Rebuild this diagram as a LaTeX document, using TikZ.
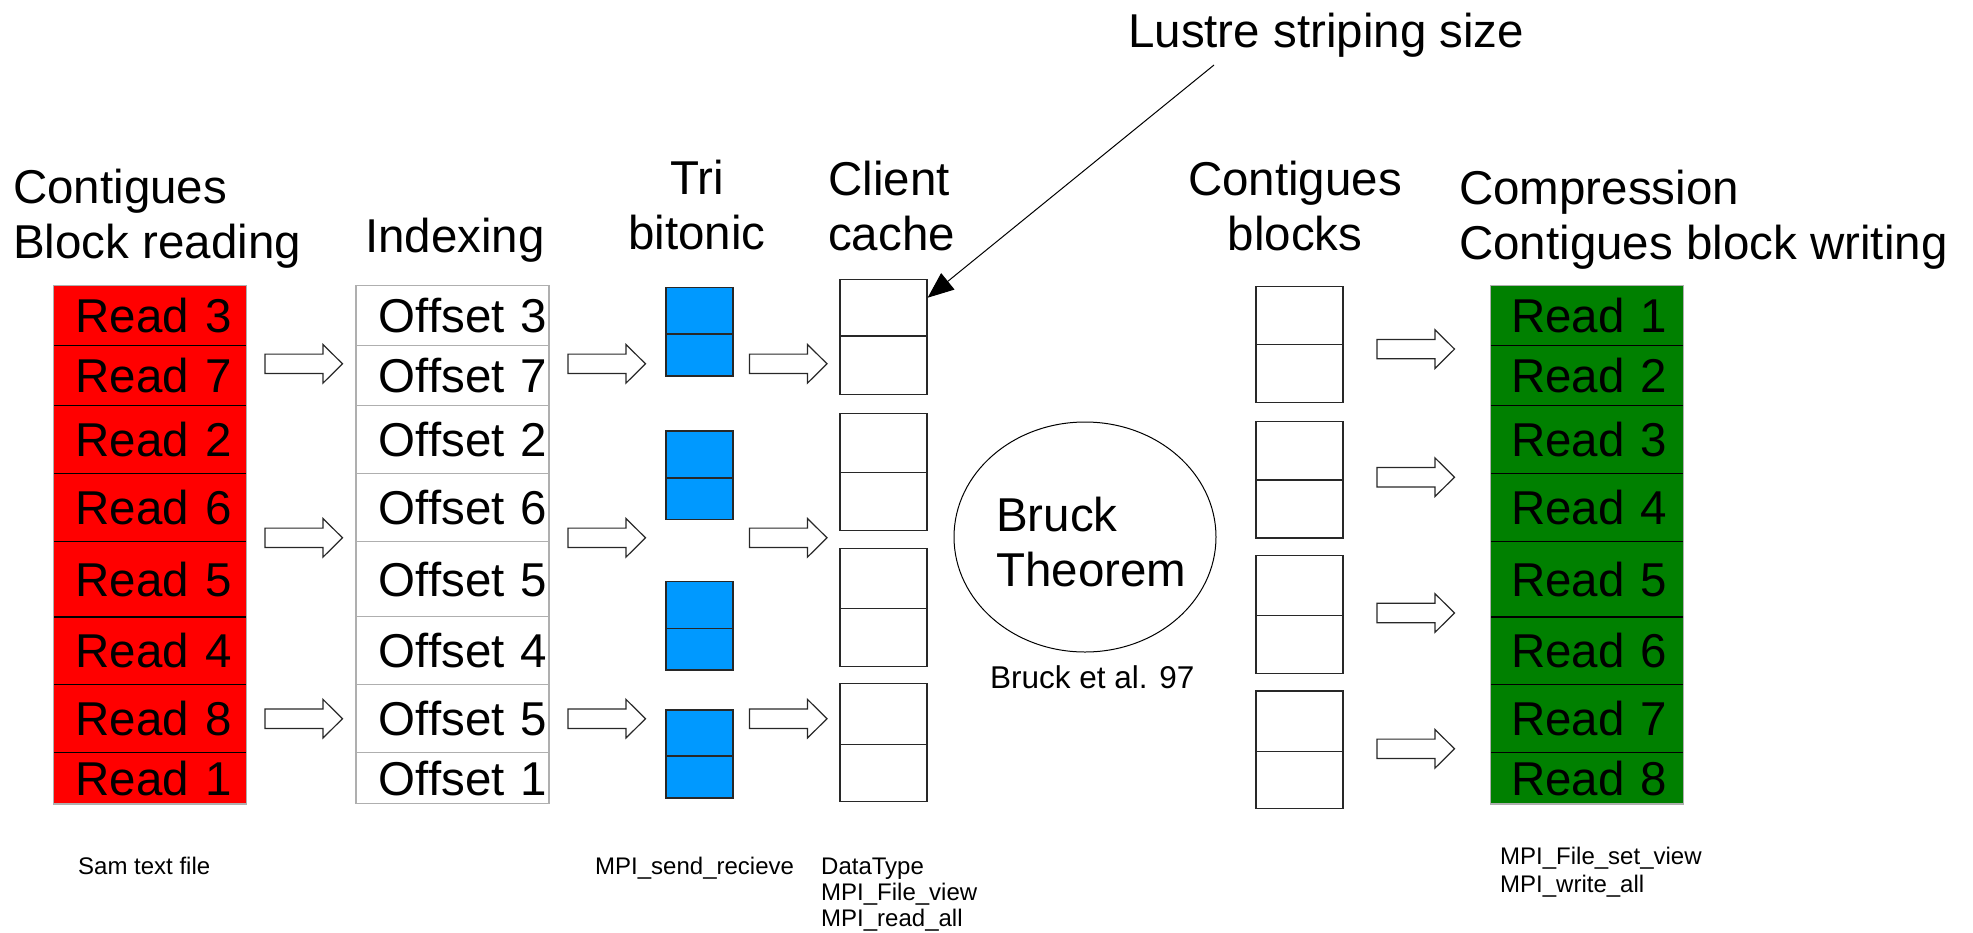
\documentclass[tikz,border=0pt]{standalone}
\usepackage{fontspec}
\setmainfont{Liberation Sans}
\usetikzlibrary{arrows.meta,calc,shapes.geometric}

\definecolor{readred}{RGB}{255,0,0}
\definecolor{writegreen}{RGB}{0,128,0}
\definecolor{sortblue}{RGB}{0,153,255}
\definecolor{cellgray}{RGB}{175,175,175}
\definecolor{edgedark}{RGB}{40,40,40}

\begin{document}
\begin{tikzpicture}[x=1pt,y=-1pt,
  big/.style={font=\fontsize{47.5}{54.6}\selectfont},
  small/.style={font=\fontsize{24}{26}\selectfont},
  heading/.style={big, inner sep=0pt, align=#1},
  readcell/.style={big, fill=readred, draw=none, minimum width=192.5pt,
    text width=162.5pt, inner xsep=15pt, inner ysep=0pt, align=right},
  offsetcell/.style={big, fill=white, draw=cellgray, line width=1.3pt, minimum width=193pt,
    text width=189pt, inner xsep=2pt, inner ysep=0pt, align=right},
  writecell/.style={big, fill=writegreen, draw=none, minimum width=192pt,
    text width=160pt, inner xsep=16pt, inner ysep=0pt, align=right},
  sortcell/.style={fill=sortblue, draw=edgedark, line width=1.3pt, minimum width=67pt, inner sep=0pt},
  blockcell/.style={fill=white, draw=edgedark, line width=1.3pt, minimum width=87pt, inner sep=0pt},
  divider/.style={draw=black, line width=1.2pt},
  outeredge/.style={draw=cellgray, line width=1.3pt},
  arrowline/.style={draw=edgedark, fill=white, line width=1.2pt, line join=miter},
  hollow arrow/.pic={
    \draw[arrowline] (0,-9.7) -- (58,-9.7) -- (58,-19.3) -- (77.5,0)
      -- (58,19.3) -- (58,9.7) -- (0,9.7) -- cycle;}
]
\useasboundingbox (0,0) rectangle (1973,932);
\fill[white] (0,0) rectangle (1973,932);

% ---- headings (base = baseline of the last line) ----
\node[heading=left, anchor=base west] (tRead) at (13,258) {Contigues\\Block reading};
\node[heading=center, anchor=base] (tIndex) at (455,252) {Indexing};
\node[heading=center, anchor=base] (tSort) at (697,249) {Tri\\bitonic};
\node[heading=left, anchor=base west] (tCache) at (828,250) {Client\\cache};
\node[heading=center, anchor=base] (tContig) at (1295,250) {Contigues\\blocks};
\node[heading=left, anchor=base west] (tWrite) at (1459,259) {Compression\\Contigues block writing};
\node[big, inner sep=0pt, anchor=base west] (lustre) at (1128,47) {Lustre striping size};

% ---- reads in input order ----
\foreach \t/\b/\txt [count=\i] in {285.7/345.5/Read 3, 345.5/405.3/Read 7,
    405.3/473.6/Read 2, 473.6/541.5/Read 6, 541.5/616.7/Read 5,
    616.7/684.6/Read 4, 684.6/752.5/Read 8, 752.5/803.8/Read 1}
  \node[readcell, minimum height={(\b-\t)*1pt}] (rd\i) at (150.25,{(\t+\b)/2}) {\txt};
\foreach \i in {1,...,7}
  \draw[divider] (rd\i.south west) -- (rd\i.south east);
\draw[outeredge] (rd1.north west) rectangle (rd8.south east);

% ---- offsets ----
\foreach \t/\b/\txt [count=\i] in {285.7/345.5/Offset 3, 345.5/405.3/Offset 7,
    405.3/473.6/Offset 2, 473.6/541.5/Offset 6, 541.5/616.7/Offset 5,
    616.7/684.6/Offset 4, 684.6/752.5/Offset 5, 752.5/803.8/Offset 1}
  \node[offsetcell, minimum height={(\b-\t)*1pt}] (of\i) at (452.5,{(\t+\b)/2}) {\txt};

% ---- sorted pairs ----
\foreach \t/\m/\b [count=\i] in {287.5/334/376, 431/478/519.6, 581.5/628.4/670, 710/756/798} {
  \node[sortcell, minimum height={(\m-\t)*1pt}] (sa\i) at (699.5,{(\t+\m)/2}) {};
  \node[sortcell, minimum height={(\b-\m)*1pt}] (sb\i) at (699.5,{(\m+\b)/2}) {};
}

% ---- client cache ----
\foreach \t/\m/\b [count=\i] in {279.8/336/394.3, 413.5/472.3/530.8, 548.3/608.5/666.6, 683.7/744.3/801.3} {
  \node[blockcell, minimum height={(\m-\t)*1pt}] (ca\i) at (883.5,{(\t+\m)/2}) {};
  \node[blockcell, minimum height={(\b-\m)*1pt}] (cb\i) at (883.5,{(\m+\b)/2}) {};
}

% ---- contiguous blocks ----
\foreach \t/\m/\b [count=\i] in {286.8/344.2/402.3, 421.2/480/538.1, 555.6/615.8/673.6, 691/751.6/808.3} {
  \node[blockcell, minimum height={(\m-\t)*1pt}] (ka\i) at (1299.5,{(\t+\m)/2}) {};
  \node[blockcell, minimum height={(\b-\m)*1pt}] (kb\i) at (1299.5,{(\m+\b)/2}) {};
}

% ---- written reads ----
\foreach \t/\b/\txt [count=\i] in {285.7/345.5/Read 1, 345.5/405.3/Read 2,
    405.3/473.6/Read 3, 473.6/541.5/Read 4, 541.5/616.7/Read 5,
    616.7/684.6/Read 6, 684.6/752.5/Read 7, 752.5/803.8/Read 8}
  \node[writecell, minimum height={(\b-\t)*1pt}] (wr\i) at (1587,{(\t+\b)/2}) {\txt};
\foreach \i in {1,...,7}
  \draw[divider] (wr\i.south west) -- (wr\i.south east);
\draw[outeredge] (wr1.north west) rectangle (wr8.south east);

% ---- block arrows between stages ----
\foreach \y [count=\i] in {363.8, 537.8, 718.7} {
  \pic (ra\i) at (265,\y) {hollow arrow};
  \pic (ia\i) at (568,\y) {hollow arrow};
  \pic (sa\i) at (749.5,\y) {hollow arrow};
}
\foreach \y [count=\i] in {349.1, 477.2, 613, 748.8}
  \pic (wa\i) at (1377,\y) {hollow arrow};

% ---- Bruck ----
\node[draw=black, line width=1pt, ellipse, minimum width=262pt, minimum height=230pt, inner sep=0pt]
  (bruck) at (1085,537) {};
\node[big, align=left, inner sep=0pt, anchor=base west] (bruckText) at (996,586) {Bruck\\Theorem};
\node[font=\fontsize{31.5}{36}\selectfont, inner sep=0pt, anchor=base west] (bruckRef) at (990,688) {Bruck et al. 97};

% ---- striping size pointer ----
\coordinate (lustreFrom) at (1214,65);
\draw[line width=1pt, -{Triangle[length=26pt,width=21pt]}] (lustreFrom) -- (ca1.13.6);

% ---- API notes ----
\node[small, inner sep=0pt, anchor=base west] (samNote) at (78,874) {Sam text file};
\node[small, inner sep=0pt, anchor=base west] (sendNote) at (595,874) {MPI\_send\_recieve};
\node[small, inner sep=0pt, align=left, anchor=base west] (cacheNote) at (821,926)
  {DataType\\MPI\_File\_view\\MPI\_read\_all};
\node[font=\fontsize{24}{27.6}\selectfont, inner sep=0pt, align=left, anchor=base west] (writeNote) at (1500,892)
  {MPI\_File\_set\_view\\MPI\_write\_all};
\end{tikzpicture}
\end{document}
